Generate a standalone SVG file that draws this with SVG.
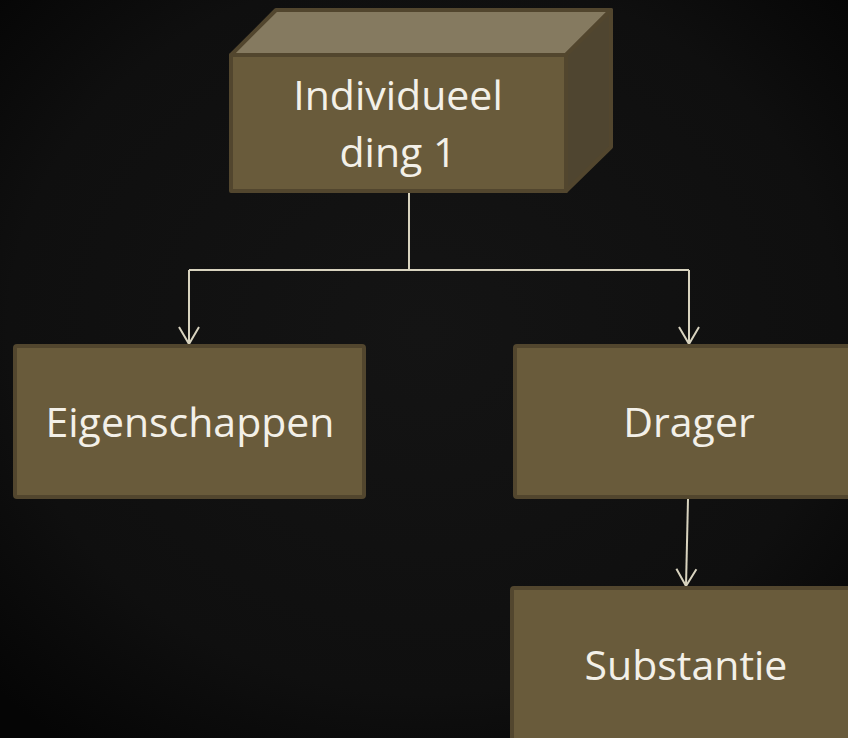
<svg xmlns="http://www.w3.org/2000/svg" width="848" height="738" viewBox="0 0 848 738">
<defs>
<radialGradient id="bg" cx="50%" cy="45%" r="70%">
<stop offset="0" stop-color="#141414"/>
<stop offset="0.7" stop-color="#0f0f0f"/>
<stop offset="1" stop-color="#050505"/>
</radialGradient>
<marker id="arr" markerUnits="userSpaceOnUse" markerWidth="22" markerHeight="24" viewBox="-19 -12 22 24" refX="0" refY="0" orient="auto">
<path d="M-17,-10 L0,0 L-17,10" fill="none" stroke="#d8d3bf" stroke-width="2"/>
</marker>
<style>
.box{fill:#695b3b;stroke:#52462e;stroke-width:4;stroke-linejoin:round}
.lbl{font-family:"Open Sans","Noto Sans",sans-serif;font-size:41px;fill:#f3f0e8;text-anchor:middle}
.con{fill:none;stroke:#d8d3bf;stroke-width:2}
</style>
</defs>
<rect width="848" height="738" fill="url(#bg)"/>
<g id="connectors">
<path class="con" d="M409,193 L409,270 M189,270 L689,270"/>
<path class="con" d="M189,270 L189,344" marker-end="url(#arr)"/>
<path class="con" d="M689,270 L689,344" marker-end="url(#arr)"/>
<path class="con" d="M688,499 L686,586" marker-end="url(#arr)"/>
</g>
<g id="node-individueel">
<polygon points="231,55 276,10 611,10 566,55" fill="#857a60" stroke="#52462e" stroke-width="4" stroke-linejoin="round"/>
<polygon points="566,55 611,10 611,147 566,191" fill="#4f4530" stroke="#52462e" stroke-width="4" stroke-linejoin="round"/>
<rect class="box" x="231" y="55" width="335" height="136"/>
<text class="lbl" x="398" y="110">Individueel</text>
<text class="lbl" x="398" y="167">ding 1</text>
</g>
<g id="node-eigenschappen">
<rect class="box" x="15" y="346" width="349" height="151" rx="2"/>
<text class="lbl" x="190" y="437">Eigenschappen</text>
</g>
<g id="node-drager">
<rect class="box" x="515" y="346" width="345" height="151" rx="2"/>
<text class="lbl" x="689" y="437">Drager</text>
</g>
<g id="node-substantie">
<rect class="box" x="512" y="588" width="348" height="160" rx="2"/>
<text class="lbl" x="686" y="680">Substantie</text>
</g>
</svg>
